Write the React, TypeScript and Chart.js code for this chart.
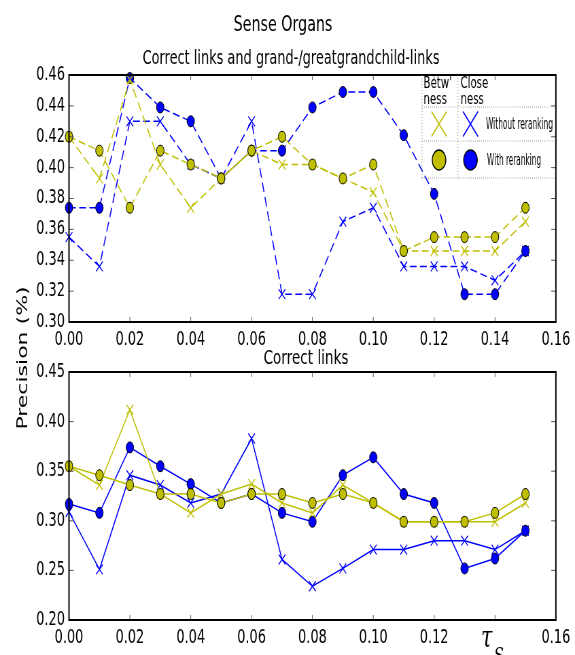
import React, { useEffect, useRef } from 'react';
import { Chart, registerables } from 'chart.js';

Chart.register(...registerables);

// ---------- data ----------
const taus = [0, 0.01, 0.02, 0.03, 0.04, 0.05, 0.06, 0.07, 0.08, 0.09, 0.1, 0.11, 0.12, 0.13, 0.14, 0.15];

// top: Correct links and grand-/greatgrandchild-links
const topBetwWith = [0.42, 0.411, 0.374, 0.411, 0.402, 0.393, 0.411, 0.42, 0.402, 0.393, 0.402, 0.346, 0.355, 0.355, 0.355, 0.374];
const topBetwWithout = [0.42, 0.393, 0.457, 0.402, 0.374, 0.393, 0.411, 0.402, 0.402, 0.393, 0.384, 0.346, 0.346, 0.346, 0.346, 0.365];
const topCloseWith = [0.374, 0.374, 0.458, 0.439, 0.43, 0.393, 0.411, 0.411, 0.439, 0.449, 0.449, 0.421, 0.383, 0.318, 0.318, 0.346];
const topCloseWithout = [0.355, 0.336, 0.43, 0.43, 0.402, 0.393, 0.43, 0.318, 0.318, 0.365, 0.374, 0.336, 0.336, 0.336, 0.327, 0.346];

// bottom: Correct links
const botBetwWith = [0.355, 0.346, 0.336, 0.327, 0.327, 0.318, 0.327, 0.327, 0.318, 0.327, 0.318, 0.299, 0.299, 0.299, 0.308, 0.327];
const botBetwWithout = [0.355, 0.336, 0.412, 0.327, 0.308, 0.327, 0.337, 0.318, 0.308, 0.336, 0.318, 0.299, 0.299, 0.299, 0.299, 0.318];
const botCloseWith = [0.317, 0.308, 0.374, 0.355, 0.337, 0.318, 0.327, 0.308, 0.299, 0.346, 0.364, 0.327, 0.318, 0.252, 0.262, 0.29];
const botCloseWithout = [0.309, 0.251, 0.346, 0.336, 0.318, 0.327, 0.383, 0.261, 0.234, 0.252, 0.271, 0.271, 0.28, 0.28, 0.271, 0.29];

const xRange = [0, 0.16, 0.02];
const topYRange = [0.3, 0.46, 0.02];
const botYRange = [0.2, 0.45, 0.05];
const botHiddenXTick = 0.14; // covered by the τS axis label

const mainTitle = 'Sense Organs';
const topTitle = 'Correct links and grand-/greatgrandchild-links';
const botTitle = 'Correct links';
const yLabel = 'Precision (%)';
const legendHeader = [["Betw'", 'ness'], ['Close', 'ness']];
const legendRows = ['Without reranking', 'With reranking'];

// ---------- styling / layout ----------
const YELLOW = '#bfbf00';
const BLUE = '#0000ff';
const W = 575;
const LW = 846; // logical canvas width (squeezed horizontally by CSS)
const SX = W / LW;
const lx = (px: number) => px / SX;
const FONT = "'DejaVu Sans', sans-serif";

const TOP_H = 347;
const BOT_TOP = 280;
const BOT_H = 655 - BOT_TOP;

function fmt2(v: any) {
  return Number(v).toFixed(2);
}

function fmtBotX(v: any) {
  return Math.abs(Number(v) - botHiddenXTick) < 1e-9 ? '' : Number(v).toFixed(2);
}

function makeDatasets(vals: number[][], dashed: boolean) {
  const specs = [
    { data: vals[0], color: YELLOW, circle: true },
    { data: vals[1], color: YELLOW, circle: false },
    { data: vals[2], color: BLUE, circle: true },
    { data: vals[3], color: BLUE, circle: false },
  ];
  return specs.map((s) => ({
    data: s.data.map((v, i) => ({ x: taus[i], y: v })),
    borderColor: s.color,
    backgroundColor: s.color,
    borderWidth: 1.5,
    borderDash: dashed ? [10, 5] : [],
    pointStyle: s.circle ? 'circle' : 'crossRot',
    pointRadius: s.circle ? 5.5 : 7,
    pointBorderColor: s.circle ? '#000' : s.color,
    pointBackgroundColor: s.color,
    pointBorderWidth: s.circle ? 1 : 1.3,
    clip: false as any,
    tension: 0,
  }));
}

const frameTicks = {
  id: 'frameTicks',
  afterDraw(chart: any) {
    const { ctx, chartArea: a, scales } = chart;
    const xs = scales.x;
    const ys = scales.y;
    ctx.save();
    ctx.strokeStyle = '#555';
    ctx.lineWidth = 1;
    ctx.beginPath();
    xs.ticks.forEach((t: any) => {
      const px = xs.getPixelForValue(t.value);
      ctx.moveTo(px, a.top);
      ctx.lineTo(px, a.top + 5);
      ctx.moveTo(px, a.bottom);
      ctx.lineTo(px, a.bottom - 5);
    });
    ys.ticks.forEach((t: any) => {
      const py = ys.getPixelForValue(t.value);
      ctx.moveTo(a.left, py);
      ctx.lineTo(a.left + 7, py);
      ctx.moveTo(a.right, py);
      ctx.lineTo(a.right - 7, py);
    });
    ctx.stroke();
    ctx.strokeStyle = '#000';
    ctx.lineWidth = 2;
    ctx.strokeRect(a.left, a.top, a.right - a.left, a.bottom - a.top);
    ctx.restore();
  },
};

function fitText(ctx: any, text: string, x: number, y: number, width: number) {
  const m = ctx.measureText(text).width;
  const s = width / m;
  ctx.save();
  ctx.translate(x, y);
  ctx.scale(s, 1);
  ctx.fillText(text, 0, 0);
  ctx.restore();
}

const topDecor = {
  id: 'topDecor',
  afterDraw(chart: any) {
    const { ctx, chartArea: a } = chart;
    ctx.save();
    ctx.fillStyle = '#000';
    ctx.textAlign = 'center';
    ctx.textBaseline = 'alphabetic';
    ctx.font = `21px ${FONT}`;
    ctx.fillText(mainTitle, lx(283), 31);
    ctx.font = `19px ${FONT}`;
    ctx.fillText(topTitle, lx(291), 64);

    // legend table
    const L = lx(422);
    const C1 = lx(458);
    const R = a.right - 1;
    const T = a.top;
    const r1 = 107;
    const r2 = 141;
    const r3 = 178;
    ctx.strokeStyle = '#888';
    ctx.lineWidth = 1;
    ctx.setLineDash([1, 2]);
    ctx.beginPath();
    ctx.moveTo(L, T);
    ctx.lineTo(L, r3);
    ctx.moveTo(C1, T);
    ctx.lineTo(C1, r3);
    [r1, r2, r3].forEach((y) => {
      ctx.moveTo(L, y);
      ctx.lineTo(R, y);
    });
    ctx.stroke();
    ctx.setLineDash([]);

    ctx.textAlign = 'left';
    ctx.font = `15px ${FONT}`;
    ctx.fillText(legendHeader[0][0], lx(423.5), 88);
    ctx.fillText(legendHeader[0][1], lx(423.5), 104);
    ctx.fillText(legendHeader[1][0], lx(460.5), 88);
    ctx.fillText(legendHeader[1][1], lx(460.5), 104);

    const cx1 = lx(439);
    const cx2 = lx(470.5);
    const drawX = (cx: number, cy: number, color: string) => {
      ctx.strokeStyle = color;
      ctx.lineWidth = 1.6;
      ctx.beginPath();
      ctx.moveTo(cx - 11, cy - 12.5);
      ctx.lineTo(cx + 11, cy + 12.5);
      ctx.moveTo(cx - 11, cy + 12.5);
      ctx.lineTo(cx + 11, cy - 12.5);
      ctx.stroke();
    };
    const drawC = (cx: number, cy: number, color: string) => {
      ctx.fillStyle = color;
      ctx.strokeStyle = '#000';
      ctx.lineWidth = 1.3;
      ctx.beginPath();
      ctx.arc(cx, cy, 10, 0, Math.PI * 2);
      ctx.fill();
      ctx.stroke();
    };
    drawX(cx1, 124, YELLOW);
    drawX(cx2, 124, BLUE);
    drawC(cx1, 160, YELLOW);
    drawC(cx2, 160, BLUE);

    ctx.fillStyle = '#000';
    ctx.textBaseline = 'middle';
    ctx.font = `16px 'DejaVu Sans Condensed', ${FONT}`;
    fitText(ctx, legendRows[0], lx(486), 125, lx(553) - lx(486));
    fitText(ctx, legendRows[1], lx(487), 161, lx(541) - lx(487));
    ctx.restore();
  },
};

const botDecor = {
  id: 'botDecor',
  afterDraw(chart: any) {
    const { ctx } = chart;
    ctx.save();
    ctx.fillStyle = '#000';
    ctx.textAlign = 'center';
    ctx.textBaseline = 'alphabetic';
    ctx.font = `20px ${FONT}`;
    ctx.fillText(botTitle, lx(306), 84);

    ctx.save();
    ctx.translate(lx(27), 358 - BOT_TOP);
    ctx.rotate(-Math.PI / 2);
    ctx.font = `22px ${FONT}`;
    ctx.fillText(yLabel, 0, 0);
    ctx.restore();

    ctx.textAlign = 'left';
    ctx.font = `italic 30px 'DejaVu Serif', serif`;
    ctx.fillText('τ', lx(481), 647 - BOT_TOP);
    ctx.font = `italic 21px 'DejaVu Serif', serif`;
    ctx.fillText('S', lx(494), 662 - BOT_TOP);
    ctx.restore();
  },
};

function makeConfig(vals: number[][], dashed: boolean, yRange: number[], padTop: number, xHeight: number, decor: any, xFmt: any) {
  return {
    type: 'line' as const,
    data: { datasets: makeDatasets(vals, dashed) as any },
    options: {
      responsive: false,
      devicePixelRatio: 1,
      animation: false as const,
      layout: { padding: { top: padTop, right: LW - lx(557), left: 0, bottom: 0 } },
      plugins: { legend: { display: false }, tooltip: { enabled: false }, title: { display: false } },
      scales: {
        x: {
          type: 'linear' as const,
          min: xRange[0],
          max: xRange[1],
          grid: { display: false, drawTicks: false },
          border: { display: false },
          ticks: {
            stepSize: xRange[2],
            autoSkip: false,
            maxRotation: 0,
            padding: 7,
            color: '#000',
            font: { family: FONT, size: 19 },
            callback: xFmt,
          },
          afterFit: (s: any) => {
            s.height = xHeight;
          },
        },
        y: {
          type: 'linear' as const,
          min: yRange[0],
          max: yRange[1],
          grid: { display: false, drawTicks: false },
          border: { display: false },
          ticks: {
            stepSize: yRange[2],
            autoSkip: false,
            padding: 6,
            color: '#000',
            font: { family: FONT, size: 19 },
            callback: fmt2,
          },
          afterFit: (s: any) => {
            s.width = lx(69);
          },
        },
      },
    },
    plugins: [frameTicks, decor],
  };
}

export default function App() {
  const topRef = useRef<HTMLCanvasElement>(null);
  const botRef = useRef<HTMLCanvasElement>(null);

  useEffect(() => {
    const c1 = new Chart(
      topRef.current as HTMLCanvasElement,
      makeConfig([topBetwWith, topBetwWithout, topCloseWith, topCloseWithout], true, topYRange, 75, TOP_H - 322, topDecor, fmt2) as any
    );
    const c2 = new Chart(
      botRef.current as HTMLCanvasElement,
      makeConfig([botBetwWith, botBetwWithout, botCloseWith, botCloseWithout], false, botYRange, 372 - BOT_TOP, 655 - 620, botDecor, fmtBotX) as any
    );
    return () => {
      c1.destroy();
      c2.destroy();
    };
  }, []);

  return (
    <div style={{ position: 'absolute', left: 0, top: 0, width: W, height: 655, background: '#fff', overflow: 'hidden' }}>
      <canvas
        ref={topRef}
        width={LW}
        height={TOP_H}
        style={{ position: 'absolute', left: 0, top: 0, width: `${W}px`, height: `${TOP_H}px` }}
      />
      <canvas
        ref={botRef}
        width={LW}
        height={BOT_H}
        style={{ position: 'absolute', left: 0, top: BOT_TOP, width: `${W}px`, height: `${BOT_H}px` }}
      />
    </div>
  );
}
